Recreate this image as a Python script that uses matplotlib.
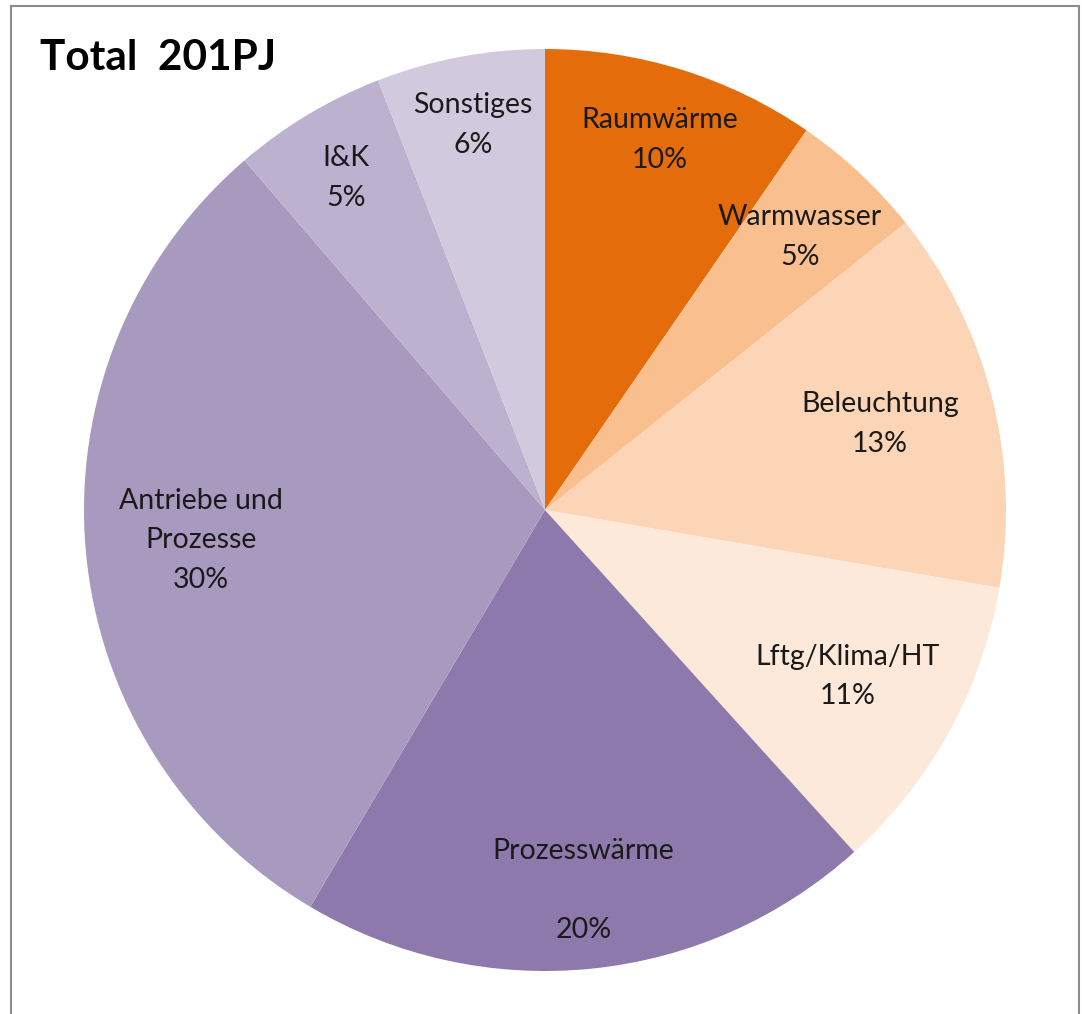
import matplotlib.pyplot as plt
from matplotlib.lines import Line2D
import numpy as np

plt.rcParams['font.family'] = ['Lato', 'DejaVu Sans']

# Data (slice sizes, labels as printed)
categories = ["Raumwärme", "Warmwasser", "Beleuchtung", "Lftg/Klima/HT",
              "Prozesswärme", "Antriebe und\nProzesse", "I&K", "Sonstiges"]
shares = [9.6, 4.7, 13.4, 10.6, 20.2, 30.2, 5.4, 5.9]
pct_labels = ["10%", "5%", "13%", "11%", "20%", "30%", "5%", "6%"]
colors = ["#E46C0A", "#F9BF8F", "#FBD5B5", "#FDE9D9",
          "#8D79AB", "#A899BF", "#BCB1CF", "#D1CADF"]
label_r = [0.84, 0.81, 0.75, 0.75, 0.83, 0.75, 0.84, 0.85]
title = "Total  201PJ"

W, H = 1082, 1014
fig = plt.figure(figsize=(W / 100, H / 100), dpi=100)

# pie centre (545, 510) px, radius 461 px
cx, cy, R = 545, 510, 461
ax = fig.add_axes([(cx - R) / W, (H - cy - R) / H, 2 * R / W, 2 * R / H])
wedges, _ = ax.pie(shares, colors=colors, startangle=90, counterclock=False,
                   radius=1, wedgeprops=dict(linewidth=0))
ax.set_xlim(-1, 1)
ax.set_ylim(-1, 1)

for w, name, pct, r in zip(wedges, categories, pct_labels, label_r):
    mid = np.deg2rad((w.theta1 + w.theta2) / 2)
    sep = "\n\n" if name == "Prozesswärme" else "\n"
    ax.text(r * np.cos(mid), r * np.sin(mid), f"{name}{sep}{pct}",
            ha="center", va="center", fontsize=20.5, color="#1a1a1a",
            linespacing=1.65)

fig.text(40 / W, 1 - 58 / H, title, fontsize=30.5, fontweight="bold",
         ha="left", va="center", color="black")

# frame (no bottom edge visible)
for xs, ys in [([11 / W, 11 / W], [0, 1 - 6 / H]),
               ([11 / W, 1079 / W], [1 - 6 / H, 1 - 6 / H]),
               ([1079 / W, 1079 / W], [1 - 6 / H, 0])]:
    fig.add_artist(Line2D(xs, ys, color="#8c8c8c", linewidth=1.5))

fig.savefig("out.png", dpi=100)
